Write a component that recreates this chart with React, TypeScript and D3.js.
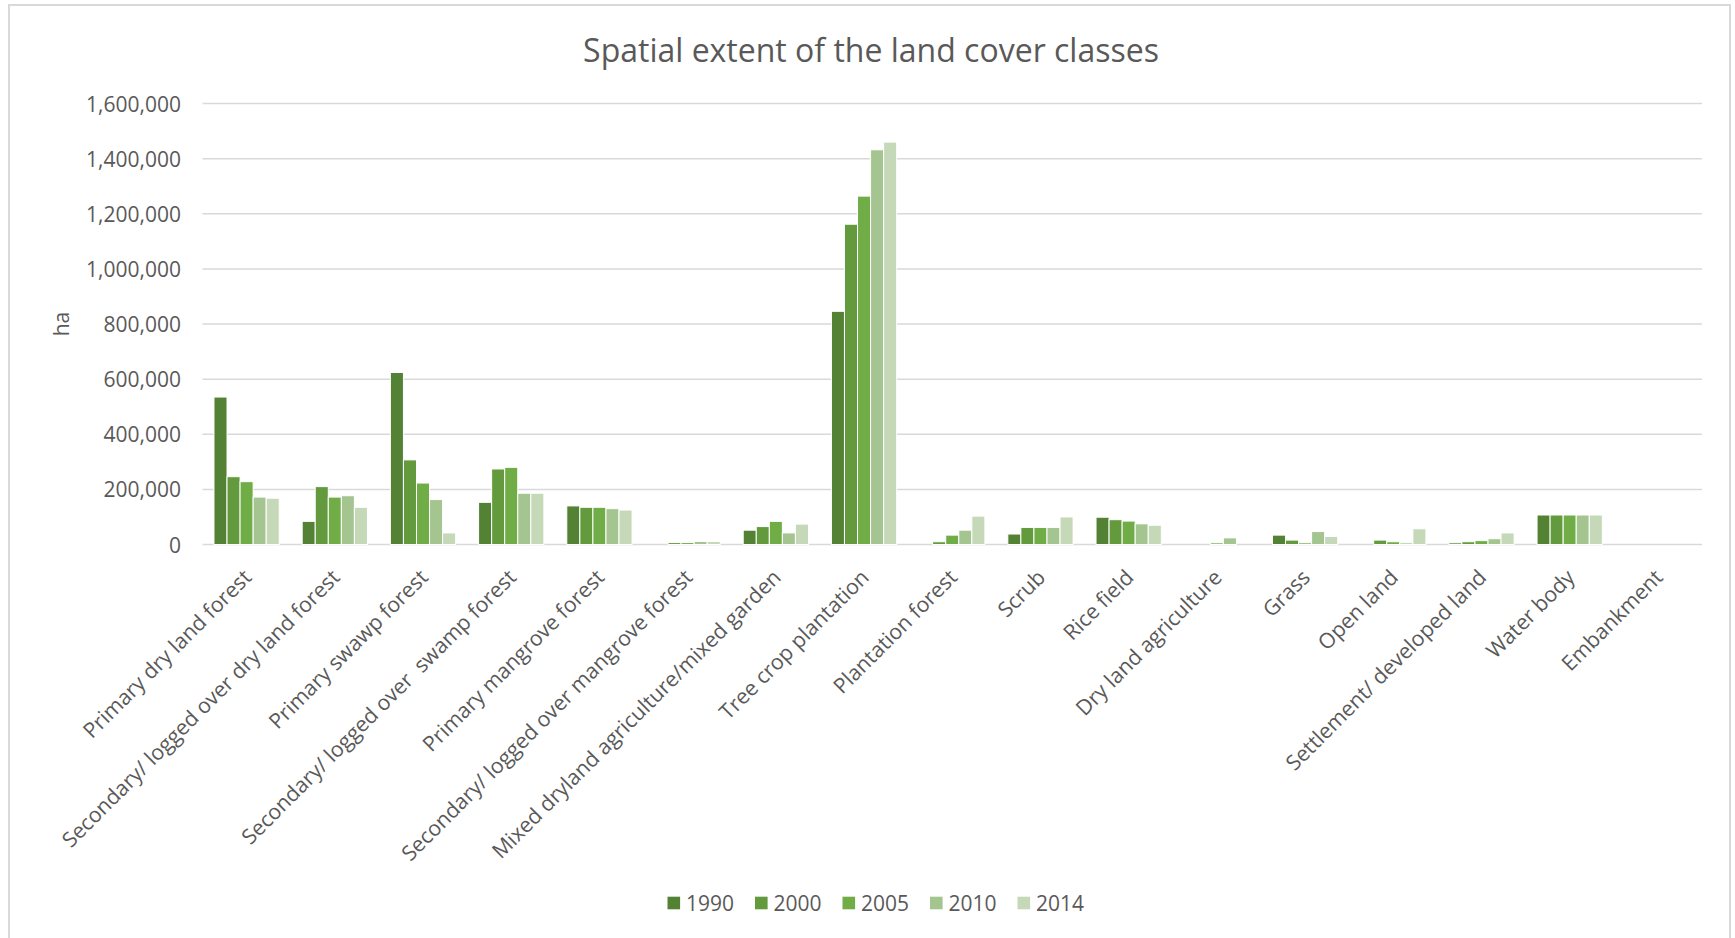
import React from "react";
import * as d3 from "d3";

const categories = [
  "Primary dry land forest",
  "Secondary/ logged over dry land forest",
  "Primary swawp forest",
  "Secondary/ logged over  swamp forest",
  "Primary mangrove forest",
  "Secondary/ logged over mangrove forest",
  "Mixed dryland agriculture/mixed garden",
  "Tree crop plantation",
  "Plantation forest",
  "Scrub",
  "Rice field",
  "Dry land agriculture",
  "Grass",
  "Open land",
  "Settlement/ developed land",
  "Water body",
  "Embankment",
];

const years = ["1990", "2000", "2005", "2010", "2014"];

const v1990 = [535000, 84000, 624000, 153000, 140000, 0, 52000, 846000, 0, 38000, 99000, 0, 34000, 0, 6000, 107000, 0];
const v2000 = [246000, 210000, 307000, 274000, 135000, 7000, 65000, 1162000, 10000, 62000, 90000, 0, 16000, 16000, 10000, 107000, 0];
const v2005 = [228000, 172000, 223000, 280000, 135000, 7000, 84000, 1264000, 34000, 62000, 85000, 6000, 6000, 10000, 14000, 107000, 0];
const v2010 = [172000, 177000, 163000, 186000, 130000, 11000, 42000, 1432000, 52000, 62000, 75000, 24000, 47000, 6000, 21000, 107000, 0];
const v2014 = [168000, 135000, 42000, 186000, 125000, 11000, 74000, 1460000, 103000, 100000, 70000, 0, 29000, 57000, 42000, 107000, 0];

const yTicks = [0, 200000, 400000, 600000, 800000, 1000000, 1200000, 1400000, 1600000];

const colors = ["#548235", "#639a3e", "#70ad47", "#a5c590", "#c5d9b9"];

const title = "Spatial extent of the land cover classes";
const yAxisTitle = "ha";

const W = 1735;
const H = 938;
const FONT = "'Open Sans', sans-serif";
const TEXT = "#595959";

export default function App() {
  const series = [v1990, v2000, v2005, v2010, v2014];
  const left = 202.5;
  const right = 1702;
  const top = 103.5;
  const bottom = 544.5;

  const x0 = d3.scaleBand<string>().domain(categories).range([left, right]).paddingInner(0.26).paddingOuter(0.13);
  const x1 = d3.scaleBand<string>().domain(years).range([0, x0.bandwidth()]).padding(0);
  const y = d3.scaleLinear().domain([0, 1600000]).range([bottom, top]);
  const fmt = d3.format(",");

  const legendStep = 87.5;
  const legendStart = 667.5;
  const legendY = 903;

  return (
    <svg width={W} height={H} style={{ position: "absolute", left: 0, top: 0, background: "#fff" }} fontFamily={FONT}>
      <rect x={0} y={0} width={W} height={H} fill="#fff" />
      <rect x={9} y={5} width={1721} height={H + 10} fill="none" stroke="#d9d9d9" strokeWidth={2} />
      <text x={871} y={49} textAnchor="middle" dominantBaseline="central" fontSize={32} fill={TEXT}>
        {title}
      </text>
      {yTicks.map((t) => (
        <g key={t}>
          <line x1={left} x2={right} y1={y(t)} y2={y(t)} stroke="#d9d9d9" strokeWidth={1.5} />
          <text x={181} y={y(t)} textAnchor="end" dominantBaseline="central" fontSize={21} fill={TEXT}>
            {fmt(t)}
          </text>
        </g>
      ))}
      <text
        transform={`translate(61, ${(top + bottom) / 2}) rotate(-90)`}
        textAnchor="middle"
        dominantBaseline="central"
        fontSize={21}
        fill={TEXT}
      >
        {yAxisTitle}
      </text>
      {categories.map((c, i) => (
        <g key={c} transform={`translate(${x0(c)}, 0)`}>
          {years.map((yr, k) => {
            const v = series[k][i];
            if (!v) return null;
            return (
              <rect
                key={yr}
                x={x1(yr)}
                y={y(v)}
                width={x1.bandwidth()}
                height={y(0) - y(v)}
                fill={colors[k]}
                stroke="#fff"
                strokeWidth={1}
              />
            );
          })}
        </g>
      ))}
      {categories.map((c) => {
        const cx = (x0(c) as number) + x0.bandwidth() / 2;
        return (
          <text
            key={c}
            transform={`translate(${cx + 1}, ${bottom + 29}) rotate(-45)`}
            textAnchor="end"
            dy="0.35em"
            fontSize={21.2}
            fill={TEXT}
            style={{ whiteSpace: "pre" }}
          >
            {c}
          </text>
        );
      })}
      {years.map((yr, k) => (
        <g key={yr} transform={`translate(${legendStart + k * legendStep}, ${legendY})`}>
          <rect x={0} y={-6.3} width={12.6} height={12.6} fill={colors[k]} />
          <text x={18.5} y={0} dominantBaseline="central" fontSize={21} fill={TEXT}>
            {yr}
          </text>
        </g>
      ))}
    </svg>
  );
}
